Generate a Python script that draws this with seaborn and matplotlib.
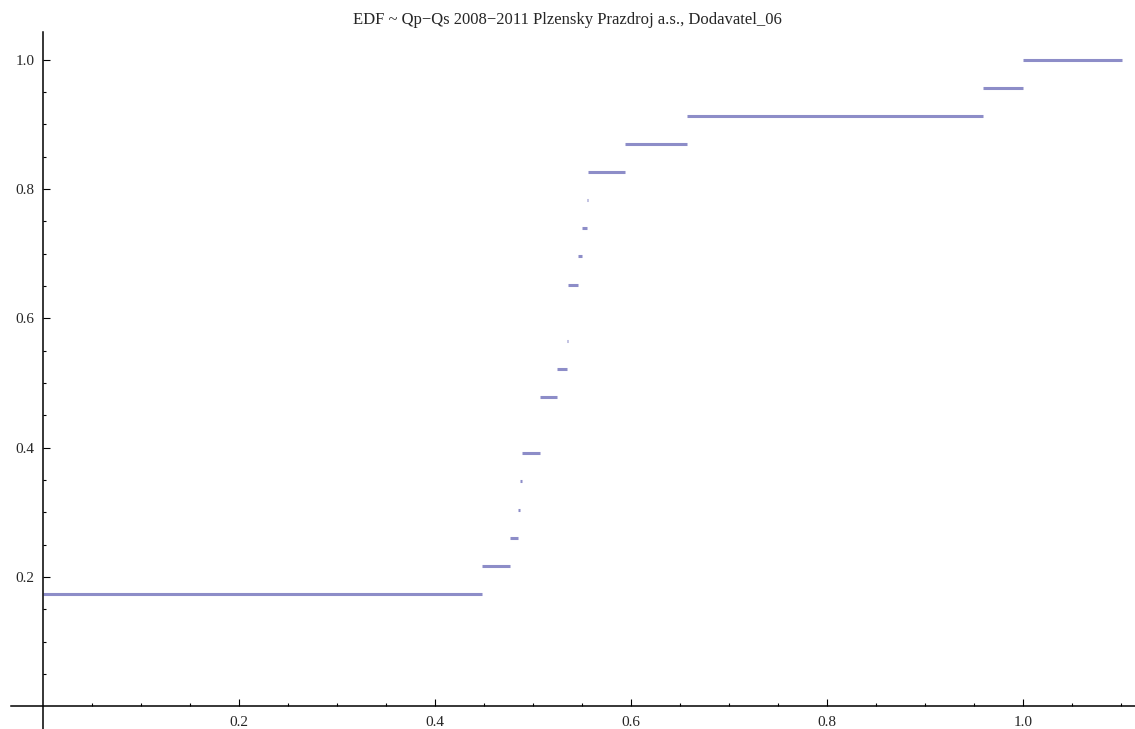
import matplotlib
matplotlib.use("Agg")
import matplotlib.pyplot as plt
from matplotlib.ticker import FixedLocator
import numpy as np
import pandas as pd
import seaborn as sns

sns.set_theme(style="white")
plt.rcParams["font.family"] = ["Liberation Serif", "DejaVu Serif"]

N_OBS = 23
# edges of each flat step, and how many observations are counted on that step
STEP_X = [0.0, 0.4477, 0.477, 0.485, 0.4865, 0.4885, 0.507, 0.524, 0.5345, 0.5355,
          0.5455, 0.550, 0.555, 0.556, 0.594, 0.657, 0.9595, 1.0, 1.101]
STEP_N = [4, 5, 6, 7, 8, 9, 11, 12, 13, 15, 16, 17, 18, 19, 20, 21, 22, 23]
XTICKS = [0.2, 0.4, 0.6, 0.8, 1.0]
YTICKS = [0.2, 0.4, 0.6, 0.8, 1.0]
TITLE = "EDF ~ Qp\u2212Qs 2008\u22122011 Plzensky Prazdroj a.s., Dodavatel_06"

rows = []
for i, n in enumerate(STEP_N):
    for x in (STEP_X[i], STEP_X[i + 1]):
        rows.append({"seg": i, "x": x, "F": n / N_OBS})
df = pd.DataFrame(rows)

fig = plt.figure(figsize=(11.35, 7.29), dpi=100)
ax = fig.add_axes([0, 0, 1, 1])
sns.lineplot(data=df, x="x", y="F", units="seg", estimator=None, color="#8d8dc8",
             lw=2.2, solid_capstyle="butt", ax=ax, legend=False)

# Mathematica-like axes crossing at the origin
ax.set_xlim(-0.0439, 1.1143); ax.set_ylim(-0.0348, 1.092)
for s in ("top", "right"): ax.spines[s].set_visible(False)
ax.spines["left"].set_position(("data", 0)); ax.spines["bottom"].set_position(("data", 0))
ax.spines["bottom"].set_bounds(-0.033, 1.1143); ax.spines["left"].set_bounds(-0.0348, 1.0425)
for s in ("left", "bottom"):
    ax.spines[s].set_color("black"); ax.spines[s].set_linewidth(1.1)
ax.set_xticks(XTICKS); ax.set_yticks(YTICKS)
ax.set_xticklabels([f"{t:.1f}" for t in XTICKS]); ax.set_yticklabels([f"{t:.1f}" for t in YTICKS])
ax.xaxis.set_minor_locator(FixedLocator(np.arange(0.05, 1.11, 0.05)))
ax.yaxis.set_minor_locator(FixedLocator(np.arange(0.05, 1.0, 0.05)))
ax.tick_params(which="both", direction="in", color="black", width=0.8, bottom=True, left=True)
ax.tick_params(which="major", length=4.8, labelsize=11)
ax.tick_params(axis="x", which="major", pad=7)
ax.tick_params(axis="y", which="major", pad=6)
ax.tick_params(which="minor", length=2.4)
ax.set_xlabel(""); ax.set_ylabel(""); ax.patch.set_alpha(0)
fig.text(0.5, 1 - 20 / 729, TITLE, ha="center", va="center", fontsize=12)

fig.savefig("out.png", dpi=100)
